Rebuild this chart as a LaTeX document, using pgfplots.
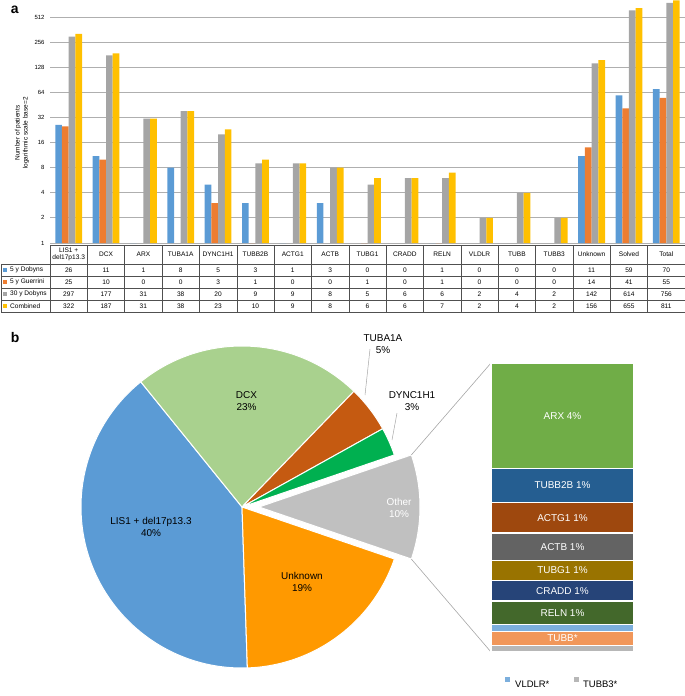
\documentclass[border=0pt]{standalone}
\usepackage{pgfplots}
\pgfplotsset{compat=1.18}
\usepackage{pgfplotstable}
\usetikzlibrary{calc}
\usepackage{fontspec}
\setmainfont{Liberation Sans}

\definecolor{sBlue}{HTML}{5B9BD5}
\definecolor{sOrange}{HTML}{ED7D31}
\definecolor{sGray}{HTML}{A5A5A5}
\definecolor{sYellow}{HTML}{FFC000}
\definecolor{gridc}{HTML}{AFAFAF}
\definecolor{tabline}{HTML}{505050}
\definecolor{leadc}{HTML}{A6A6A6}
\definecolor{pLis}{HTML}{5B9BD5}
\definecolor{pDcx}{HTML}{A9D18E}
\definecolor{pTub}{HTML}{C55A11}
\definecolor{pDyn}{HTML}{00B050}
\definecolor{pOth}{HTML}{C0C0C0}
\definecolor{pUnk}{HTML}{FF9900}
\definecolor{kARX}{HTML}{70AD47}
\definecolor{kTUBBiiB}{HTML}{255E91}
\definecolor{kACTGi}{HTML}{9E480E}
\definecolor{kACTB}{HTML}{636363}
\definecolor{kTUBGi}{HTML}{997300}
\definecolor{kCRADD}{HTML}{264478}
\definecolor{kRELN}{HTML}{43682B}
\definecolor{kVLDLR}{HTML}{7CAFDD}
\definecolor{kTUBB}{HTML}{F1975A}
\definecolor{kTUBBiii}{HTML}{B7B7B7}

\newcommand\tabfont{\fontsize{6.6}{7.2}\selectfont}
\newcommand\piefont{\fontsize{10}{12}\selectfont}

% columns: 5 y Dobyns, 5 y Guerrini, 30 y Dobyns, Combined
\pgfplotstableread{
x dob gue thirty comb
0 26 25 297 322
1 11 10 177 187
2 1 0 31 31
3 8 0 38 38
4 5 3 20 23
5 3 1 9 10
6 1 0 9 9
7 3 0 8 8
8 0 1 5 6
9 0 0 6 6
10 1 1 6 7
11 0 0 2 2
12 0 0 4 4
13 0 0 2 2
14 11 14 142 156
15 59 41 614 655
16 70 55 756 811
}\bardata

\begin{document}
\begin{tikzpicture}[x=1bp,y=1bp]
\useasboundingbox (0,0) rectangle (685,-696);

% ---------------- panel a ----------------
\node[anchor=base west, inner sep=0, font=\bfseries\fontsize{14}{14}\selectfont] at (10.7,-14) {a};

\begin{axis}[
  at={(50bp,-243bp)}, anchor=south west,
  scale only axis, width=635bp, height=243.6bp,
  ymode=log, log basis y=2, ymin=1, ymax=832,
  xmin=-0.5, xmax=16.5,
  xtick=\empty,
  ytick={1,2,4,8,16,32,64,128,256,512},
  yticklabels={1,2,4,8,16,32,64,128,256,512},
  /pgf/number format/assume math mode=true,
  ymajorgrids, grid style={draw=gridc, line width=0.9bp},
  axis line style={draw=none},
  major tick length=0pt,
  yticklabel style={font=\fontsize{6}{7}\selectfont, xshift=-2bp},
  ybar=0pt, bar width=6.7bp,
  unbounded coords=discard,
]
\addplot[fill=sBlue, draw=none] table[x=x, y=dob] {\bardata};
\addplot[fill=sOrange, draw=none] table[x=x, y=gue] {\bardata};
\addplot[fill=sGray, draw=none] table[x=x, y=thirty] {\bardata};
\addplot[fill=sYellow, draw=none] table[x=x, y=comb] {\bardata};
\end{axis}

% y label
\node[rotate=90, align=center, font=\fontsize{6.5}{8}\selectfont] at (22,-133)
  {Number of patients\\logarithmic scale base=2};

% data table
\def\colw{37.353}
\draw[tabline, line width=0.5bp] (50,-245) -- (685,-245);
\foreach \yy in {264,276,288,300,312}{
  \draw[tabline, line width=0.5bp] (1,-\yy) -- (685,-\yy);
}
\draw[tabline, line width=0.5bp] (1,-264) -- (1,-312);
\foreach \k in {0,...,17}{
  \draw[tabline, line width=0.5bp] ({50+\k*\colw},-245) -- ({50+\k*\colw},-312);
}
\foreach \n [count=\i from 0] in {{LIS1 +\\del17p13.3},DCX,ARX,TUBA1A,DYNC1H1,TUBB2B,ACTG1,ACTB,TUBG1,CRADD,RELN,VLDLR,TUBB,TUBB3,Unknown,Solved,Total}{
  \node[align=center, inner sep=0, font=\tabfont] at ({50+(\i+0.5)*\colw},-254.5) {\n};
}
\foreach \lab/\c [count=\r] in {5 y Dobyns/sBlue, 5 y Guerrini/sOrange, 30 y Dobyns/sGray, Combined/sYellow}{
  \fill[\c] (3.4,{-258-12*\r-2}) rectangle ++(4,4);
  \node[anchor=west, inner sep=0, font=\tabfont] at (10,{-258-12*\r}) {\lab};
}
\foreach \i in {0,...,16}{
  \foreach \col [count=\r] in {dob,gue,thirty,comb}{
    \pgfplotstablegetelem{\i}{\col}\of\bardata
    \node[inner sep=0, font=\tabfont] at ({50+(\i+0.5)*\colw},{-258-12*\r}) {\pgfplotsretval};
  }
}

% ---------------- panel b ----------------
\node[anchor=base west, inner sep=0, font=\bfseries\fontsize{14}{14}\selectfont] at (10.7,-342) {b};

\coordinate (pc) at (242,-507);
\pgfmathsetmacro{\startang}{-(85/2+156)/811*360}
\xdef\cum{\startang}
\foreach \v/\c/\ex in {322/pLis/0, 187/pDcx/0, 38/pTub/0, 23/pDyn/0, 85/pOth/17, 156/pUnk/0}{
  \pgfmathsetmacro{\sa}{\cum}
  \pgfmathsetmacro{\ea}{\cum-\v/811*360}
  \pgfmathsetmacro{\ma}{(\sa+\ea)/2}
  \xdef\cum{\ea}
  \fill[\c, draw=white, line width=1bp, line join=round]
    ($(pc)+(\ma:\ex)$) -- ++(\sa:161) arc[start angle=\sa, end angle=\ea, radius=161] -- cycle;
}

% pie labels
\node[align=center, font=\piefont] at (151,-527) {LIS1 + del17p13.3\\40\%};
\node[align=center, font=\piefont] at (246.5,-401) {DCX\\23\%};
\node[align=center, font=\piefont] at (383,-344.5) {TUBA1A\\5\%};
\node[align=center, font=\piefont] at (412,-401) {DYNC1H1\\3\%};
\node[align=center, font=\piefont, white] at (399,-508) {Other\\10\%};
\node[align=center, font=\piefont] at (302,-582) {Unknown\\19\%};
\draw[leadc, line width=0.5bp] (370,-349) -- (365,-395);
\draw[leadc, line width=0.5bp] (397,-413) -- (392,-440);

% connectors to the bar of pie
\pgfmathsetmacro{\oh}{85/811*180}
\draw[leadc, line width=0.6bp] ($(pc)+(17,0)+(\oh:161)$) -- (491,-363);
\draw[leadc, line width=0.6bp] ($(pc)+(17,0)+(-\oh:161)$) -- (491,-652);

\begin{axis}[
  at={(491bp,-652bp)}, anchor=south west,
  scale only axis, width=143bp, height=289bp,
  xmin=-0.5, xmax=0.5, ymin=0, ymax=85,
  hide axis, clip=false,
  ybar stacked, bar width=143bp,
]
\addplot[fill=kTUBBiii, draw=white, line width=1.2bp] coordinates {(0,2)};
\addplot[fill=kTUBB, draw=white, line width=1.2bp] coordinates {(0,4)};
\addplot[fill=kVLDLR, draw=white, line width=1.2bp] coordinates {(0,2)};
\addplot[fill=kRELN, draw=white, line width=1.2bp] coordinates {(0,7)};
\addplot[fill=kCRADD, draw=white, line width=1.2bp] coordinates {(0,6)};
\addplot[fill=kTUBGi, draw=white, line width=1.2bp] coordinates {(0,6)};
\addplot[fill=kACTB, draw=white, line width=1.2bp] coordinates {(0,8)};
\addplot[fill=kACTGi, draw=white, line width=1.2bp] coordinates {(0,9)};
\addplot[fill=kTUBBiiB, draw=white, line width=1.2bp] coordinates {(0,10)};
\addplot[fill=kARX, draw=white, line width=1.2bp] coordinates {(0,31)};
\end{axis}

% labels of the bar of pie (segment midpoints, 289bp for 85 patients)
\foreach \m/\t in {69.5/ARX 4\%, 49/TUBB2B 1\%, 39.5/ACTG1 1\%, 31/ACTB 1\%, 24/TUBG1 1\%, 18/CRADD 1\%, 11.5/RELN 1\%, 4/TUBB*}{
  \pgfmathsetmacro{\yy}{-652+\m/85*289}
  \node[white, font=\piefont] at (562.5,\yy) {\t};
}

% legend of the small slices
\fill[kVLDLR] (505,-682) rectangle ++(5,5);
\node[anchor=west, inner sep=0, font=\fontsize{9.5}{11}\selectfont] at (515,-684) {VLDLR*};
\fill[kTUBBiii] (574,-682) rectangle ++(5,5);
\node[anchor=west, inner sep=0, font=\fontsize{9.5}{11}\selectfont] at (583,-684) {TUBB3*};
\end{tikzpicture}
\end{document}
